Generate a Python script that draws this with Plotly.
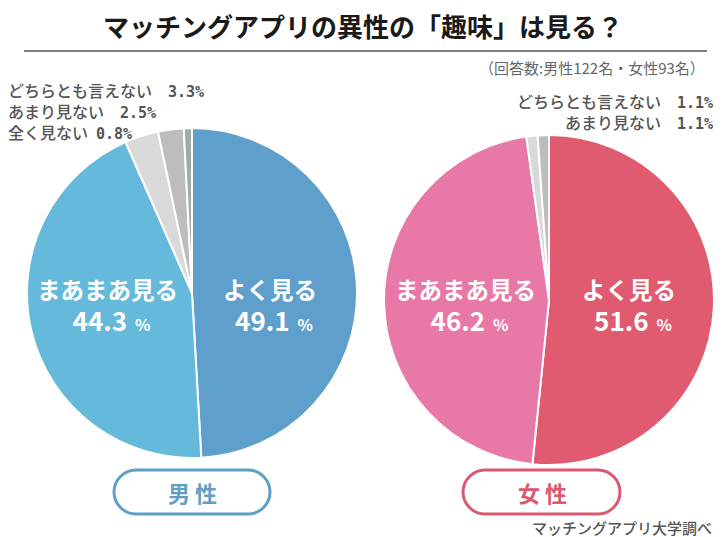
import plotly.graph_objects as go

W = 724
H = 537
JP = "Noto Sans CJK JP"

labels_m = ["よく見る", "まあまあ見る", "どちらとも言えない", "あまり見ない", "全く見ない"]
values_m = [49.1, 44.3, 3.3, 2.5, 0.8]
colors_m = ["#5F9FCB", "#65B9DA", "#D9D9D9", "#BDBDBD", "#A3A8A8"]

labels_f = ["よく見る", "まあまあ見る", "どちらとも言えない", "あまり見ない"]
values_f = [51.6, 46.2, 1.1, 1.1]
colors_f = ["#E05B70", "#E878A6", "#D9D9D9", "#BDBDBD"]


def px(x):
    return x / W


def py(y):
    return 1 - y / H


def pie(labels, values, colors, left, right, top, bottom):
    return go.Pie(
        labels=labels,
        values=values,
        sort=False,
        direction="clockwise",
        rotation=0,
        textinfo="none",
        hoverinfo="label+percent",
        showlegend=False,
        marker=dict(colors=colors, line=dict(color="#FFFFFF", width=2)),
        domain=dict(x=[px(left), px(right)], y=[py(bottom), py(top)]),
    )


def note(text, x, y, size, color, anchor="center", weight=400, height=None):
    return dict(
        text=text,
        x=px(x),
        y=py(y),
        xref="paper",
        yref="paper",
        xanchor=anchor,
        yanchor="middle",
        showarrow=False,
        align=anchor,
        height=height,
        font=dict(family=JP, size=size, color=color, weight=weight),
    )


def pill(left, right, top, bottom, color):
    r = (bottom - top) / 2
    k = r * 0.55
    path = (
        f"M {px(left + r)} {py(top)} L {px(right - r)} {py(top)} "
        f"C {px(right - r + k)} {py(top)} {px(right)} {py(top + r - k)} {px(right)} {py(top + r)} "
        f"C {px(right)} {py(bottom - r + k)} {px(right - r + k)} {py(bottom)} {px(right - r)} {py(bottom)} "
        f"L {px(left + r)} {py(bottom)} "
        f"C {px(left + r - k)} {py(bottom)} {px(left)} {py(bottom - r + k)} {px(left)} {py(bottom - r)} "
        f"C {px(left)} {py(top + r - k)} {px(left + r - k)} {py(top)} {px(left + r)} {py(top)} Z"
    )
    return dict(type="path", xref="paper", yref="paper", path=path,
                line=dict(color=color, width=3), fillcolor="rgba(0,0,0,0)")


def big(label, v):
    # label line carries a trailing space so it sits a little left of the number
    return (f'<span style="font-size:23.5px">{label}</span>'
            f'<span style="font-size:16px">\u2002</span><br>'
            f'<span style="font-size:26px">{v}</span>'
            f'<span style="font-size:16px">\u2002%</span>')


def small(label, v, gap):
    return (f'{label}{gap}<span style="font-family:DejaVu Sans Mono;font-size:15px">'
            f'<b>{v}%</b></span>')


fig = go.Figure()
fig.add_trace(pie(labels_m, values_m, colors_m, 27, 357, 128, 458))
fig.add_trace(pie(labels_f, values_f, colors_f, 384, 714, 135, 465))

small_m = "<br>".join([
    small(labels_m[2], values_m[2], "\u3000"),
    small(labels_m[3], values_m[3], "\u3000"),
    small(labels_m[4], values_m[4], "\u2002"),
])
small_f = "<br>".join([
    small(labels_f[2], values_f[2], "\u3000"),
    small(labels_f[3], values_f[3], "\u3000"),
])

annotations = [
    note("マッチングアプリの異性の「趣味」は見る？", 363, 25, 26, "#1A1A1A", weight=700),
    note("（回答数:男性122名・女性93名）", 707, 67, 15, "#666666", "right"),
    note(small_m, 6, 111, 16, "#555555", "left", 500),
    note(small_f, 715, 111, 16, "#555555", "right", 500),
    note(big(labels_m[0], values_m[0]), 274, 305, 24.5, "#FFFFFF", weight=700),
    note(big(labels_m[1], values_m[1]), 111, 305, 24.5, "#FFFFFF", weight=700),
    note(big(labels_f[0], values_f[0]), 633, 305, 24.5, "#FFFFFF", weight=700),
    note(big(labels_f[1], values_f[1]), 470, 305, 24.5, "#FFFFFF", weight=700),
    note("男 性", 192.5, 492, 22, "#5F9FC4", weight=700),
    note("女 性", 542, 492, 22, "#D9596F", weight=700),
    note("マッチングアプリ大学調べ", 714, 527, 15, "#555555", "right", 500, 18),
]

shapes = [
    dict(type="line", xref="paper", yref="paper", x0=px(24), x1=px(707), y0=py(51), y1=py(51),
         line=dict(color="#808080", width=2)),
    pill(114, 270, 470, 514, "#5F9FC4"),
    pill(463, 620, 470, 514, "#D9596F"),
]

fig.update_layout(
    width=W,
    height=H,
    margin=dict(l=0, r=0, t=0, b=0),
    paper_bgcolor="#FFFFFF",
    plot_bgcolor="#FFFFFF",
    annotations=annotations,
    shapes=shapes,
)

fig.write_html("out.html", config={"displayModeBar": False},
               post_script="document.body.style.margin = '0';")
